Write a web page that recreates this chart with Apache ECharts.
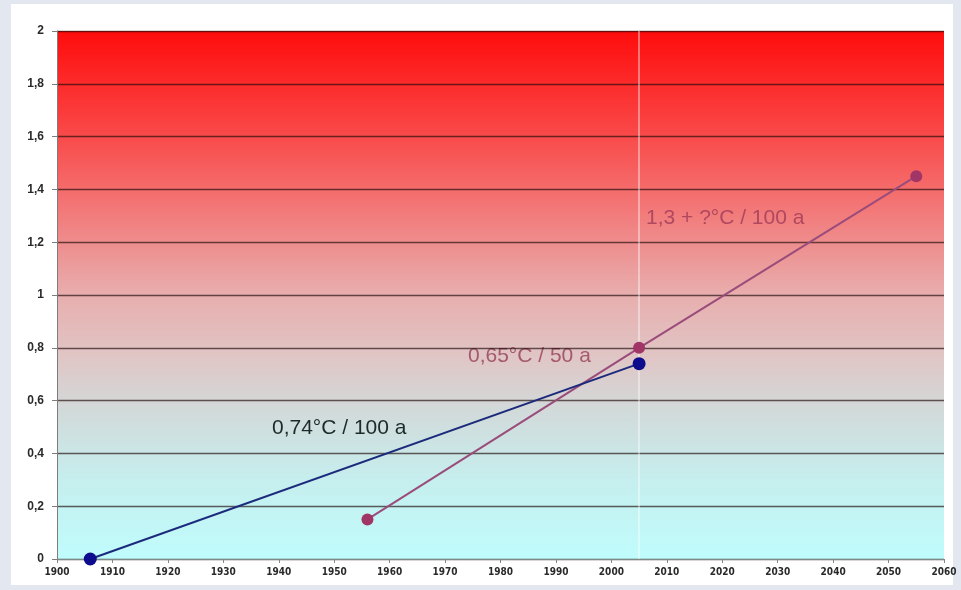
<!DOCTYPE html>
<html>
<head>
<meta charset="utf-8">
<script src="https://cdn.jsdelivr.net/npm/echarts@6/dist/echarts.min.js"></script>
<style>
  html, body { margin: 0; padding: 0; background: #e3e8f0; }
  #panel { position: absolute; left: 11px; top: 4px; width: 942px; height: 581px; background: #ffffff; }
  #chart { position: absolute; left: 0; top: 0; width: 961px; height: 590px; }
</style>
</head>
<body>
<div id="panel"></div>
<div id="chart"></div>
<script>
// Observed warming over the last century and the last half-century
const pastYears = [1906, 2005];
const pastTemps = [0, 0.74];

// Recent trend extended forward to mid-century
const trendYears = [1956, 2005, 2055];
const trendTemps = [0.15, 0.8, 1.45];

const yTicks = [0, 0.2, 0.4, 0.6, 0.8, 1, 1.2, 1.4, 1.6, 1.8, 2];
const presentYear = 2005;

const pastLabel = '0,74°C / 100 a';
const recentLabel = '0,65°C / 50 a';
const futureLabel = '1,3 + ?°C / 100 a';

const chart = echarts.init(document.getElementById('chart'), null, { renderer: 'canvas' });

const fmtComma = v => String(v).replace('.', ',');
const labelFont = '21px Arial, "Liberation Sans", sans-serif';

chart.setOption({
  animation: false,
  backgroundColor: 'transparent',
  grid: {
    left: 57, right: 17, top: 31, bottom: 31,
    show: true,
    borderWidth: 0,
    backgroundColor: new echarts.graphic.LinearGradient(0, 0, 0, 1, [
      { offset: 0, color: '#ff0c0c' },
      { offset: 0.15, color: '#fb3a3a' },
      { offset: 0.32, color: '#f47272' },
      { offset: 0.5, color: '#e8aeae' },
      { offset: 0.62, color: '#e0c6c6' },
      { offset: 0.72, color: '#d2dada' },
      { offset: 0.85, color: '#c6eeee' },
      { offset: 1, color: '#c0fcfc' }
    ])
  },
  xAxis: {
    type: 'value',
    min: 1900, max: 2060, interval: 10,
    axisLine: { show: true, lineStyle: { color: '#7d8a8a', width: 1 } },
    axisTick: { show: true, length: 4, lineStyle: { color: '#7d8a8a' } },
    splitLine: { show: false },
    axisLabel: {
      color: '#2a2a2a',
      fontFamily: '"Liberation Sans Narrow", "Arial Narrow", "DejaVu Sans Condensed", sans-serif',
      fontWeight: 'bold',
      fontSize: 10,
      margin: 8,
      formatter: v => String(v)
    }
  },
  yAxis: {
    type: 'value',
    min: 0, max: 2, interval: 0.2,
    axisLine: { show: true, lineStyle: { color: '#7d7d7d', width: 1 } },
    axisTick: { show: true, length: 5, lineStyle: { color: '#7d7d7d' } },
    splitLine: { show: true, lineStyle: { color: 'rgba(30,10,10,0.66)', width: 1.3 } },
    axisLabel: {
      color: '#2a2a2a',
      fontFamily: 'Arial, "Liberation Sans", sans-serif',
      fontWeight: 'bold',
      fontSize: 12,
      margin: 13,
      formatter: v => fmtComma(Math.round(v * 10) / 10)
    }
  },
  series: [
    {
      name: 'trend',
      type: 'line',
      data: trendYears.map((y, i) => [y, trendTemps[i]]),
      symbol: 'circle',
      symbolSize: 12,
      itemStyle: { color: '#a13566' },
      lineStyle: { color: '#9a4c7a', width: 2 },
      z: 3,
      markLine: {
        silent: true,
        symbol: 'none',
        label: { show: false },
        lineStyle: { color: 'rgba(255,255,255,0.4)', width: 2, type: 'solid' },
        data: [{ xAxis: presentYear }],
        z: 1
      }
    },
    {
      name: 'past',
      type: 'line',
      data: pastYears.map((y, i) => [y, pastTemps[i]]),
      symbol: 'circle',
      symbolSize: 13,
      itemStyle: { color: '#0c0c8c' },
      lineStyle: { color: '#1c2a7c', width: 2 },
      z: 4
    }
  ],
  graphic: [
    {
      type: 'text', left: 272, top: 418,
      style: { text: pastLabel, fill: '#1e2a2a', font: labelFont }
    },
    {
      type: 'text', left: 468, top: 346,
      style: { text: recentLabel, fill: '#a45a6c', font: labelFont }
    },
    {
      type: 'text', left: 646, top: 208,
      style: { text: futureLabel, fill: '#b04860', font: labelFont }
    }
  ]
});
</script>
</body>
</html>
